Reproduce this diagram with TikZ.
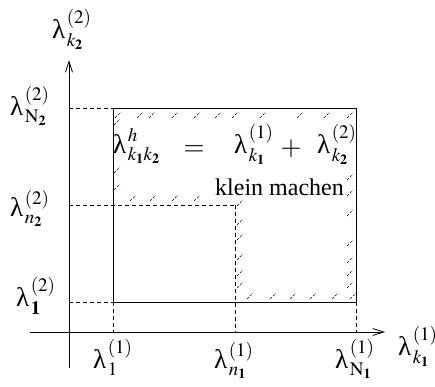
\documentclass[tikz,border=0pt]{standalone}
\usepackage{mathptmx}
\usepackage[no-math]{fontspec}
\setmainfont{Liberation Serif}
\usetikzlibrary{arrows.meta}
\DeclareMathSizes{27}{27}{19}{14}
\newcommand\lm{\mbox{λ\kern1.5pt}}
\newcommand\lamlbl[2]{$\fontdimen16\textfont2=7pt\fontdimen17\textfont2=7pt\fontdimen13\textfont2=12pt\lm^{#1}_{#2}$}
\tikzset{
  lbl/.style={anchor=base west,inner sep=0pt,font=\fontsize{27}{30}\selectfont},
  txt/.style={anchor=base west,inner sep=0pt,font=\fontsize{24}{28}\selectfont},
  axis/.style={line width=0.8pt,-{Straight Barb[length=11pt,width=7pt]}},
  edge/.style={line width=0.8pt},
  guide/.style={line width=0.7pt,dash pattern=on 4pt off 3pt},
  hatch/.style={line width=0.6pt,dash pattern=on 2.5pt off 1.5pt}
}
\begin{document}
\begin{tikzpicture}[x=1pt,y=-1pt]
\useasboundingbox (0,0) rectangle (435,386);
% corner coordinates
\coordinate (xs) at (30,332);
\coordinate (xe) at (385,332);
\coordinate (ys) at (69,368);
\coordinate (ye) at (69,60);
\coordinate (tl) at (113,108);
\coordinate (tr) at (356,108);
\coordinate (bl) at (113,302);
\coordinate (br) at (356,302);
\coordinate (m) at (235,205);
\coordinate (aN2) at (69,108);
\coordinate (an2) at (69,205);
\coordinate (a12) at (69,302);
\coordinate (a11) at (113,332);
\coordinate (an1) at (235,332);
\coordinate (aN1) at (356,332);
% axes
\draw[axis] (xs) -- (xe);
\draw[axis] (ys) -- (ye);
% rectangle
\draw[edge] (bl) -- (tl) -- (tr) -- (br) -- cycle;
% guides
\draw[guide] (aN2) -- (tl);
\draw[guide] (an2) -- (m);
\draw[guide] (m) -- (an1);
\draw[guide] (a12) -- (bl);
\draw[guide] (bl) -- (a11);
\draw[guide] (br) -- (aN1);
% hatching marks
\foreach \x in {118,140,152,175,197,218,235,263,300,327,350}
  \draw[hatch] (\x-3,118) -- (\x+3,112);
\foreach \y in {122,170,187}
  \draw[hatch] (114,\y+3) -- (120,\y-3);
\foreach \x in {133,153,175,197}
  \draw[hatch] (\x-3,201) -- (\x+3,195);
\foreach \y in {177,193,213,243,260,273,285}
  \draw[hatch] (347,\y+3) -- (353,\y-3);
\foreach \y in {203,222,237,257,273,285}
  \draw[hatch] (237,\y+3) -- (243,\y-3);
\foreach \x in {250,273,293,313,335,353}
  \draw[hatch] (\x-3,299) -- (\x+3,293);
% axis labels
\node[lbl] (ly) at (52,38) {\lamlbl{(2)}{k_{\mathbf 2}}};
\node[lbl] (lx) at (398,355) {\lamlbl{(1)}{k_{\mathbf 1}}};
\node[lbl] (lN2) at (10,115) {\lamlbl{(2)}{\mathrm{N}_{\mathbf 2}}};
\node[lbl] (ln2) at (10,216) {\lamlbl{(2)}{n_{\mathbf 2}}};
\node[lbl] (l12) at (16,306) {\lamlbl{(2)}{\mathbf 1}};
\node[lbl] (l11) at (93,368) {\lamlbl{(1)}{1}};
\node[lbl] (ln1) at (214,368) {\lamlbl{(1)}{n_{\mathbf 1}}};
\node[lbl] (lN1) at (335,368) {\lamlbl{(1)}{\mathrm{N}_{\mathbf 1}}};
% formula
\node[lbl] (fh) at (113,153) {\lamlbl{h}{k_{\mathbf 1}k_{\mathbf 2}}};
\node[lbl,anchor=base] (feq) at (194,155) {$=$};
\node[lbl] (f1) at (234,153) {\lamlbl{(1)}{k_{\mathbf 1}}};
\node[lbl,anchor=base] (fp) at (291,155) {$+$};
\node[lbl] (f2) at (317,153) {\lamlbl{(2)}{k_{\mathbf 2}}};
\node[txt] (km) at (215,195) {klein machen};
\end{tikzpicture}
\end{document}
